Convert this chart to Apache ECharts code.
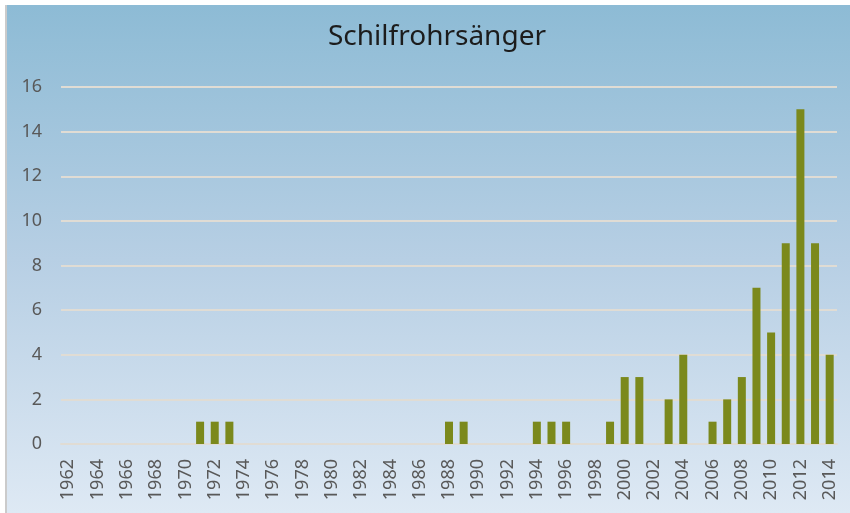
<!DOCTYPE html>
<html>
<head>
<meta charset="utf-8">
<script src="https://cdn.jsdelivr.net/npm/echarts@6/dist/echarts.min.js"></script>
<style>
  body { margin: 0; background: #fff; }
  #bg { position: absolute; left: 5px; top: 5px; width: 843px; height: 508px;
        border-left: 2px solid #cbcbcb;
        background: linear-gradient(to bottom, #8dbbd5 0%, #b7cfe4 50%, #dee9f4 100%); }
  #chart { position: absolute; left: 0; top: 0; width: 850px; height: 513px; }
</style>
</head>
<body>
<div id="bg"></div>
<div id="chart"></div>
<script>
  var years = ['1962','1963','1964','1965','1966','1967','1968','1969','1970','1971',
               '1972','1973','1974','1975','1976','1977','1978','1979','1980','1981',
               '1982','1983','1984','1985','1986','1987','1988','1989','1990','1991',
               '1992','1993','1994','1995','1996','1997','1998','1999','2000','2001',
               '2002','2003','2004','2005','2006','2007','2008','2009','2010','2011',
               '2012','2013','2014'];
  var counts = [0,0,0,0,0,0,0,0,0,1,
                1,1,0,0,0,0,0,0,0,0,
                0,0,0,0,0,0,1,1,0,0,
                0,0,1,1,1,0,0,1,3,3,
                0,2,4,0,1,2,3,7,5,9,
                15,9,4];
  var yTicks = { min: 0, max: 16, step: 2 };

  var chart = echarts.init(document.getElementById('chart'));
  var option = {
    backgroundColor: 'transparent',
    animation: false,
    title: {
      text: 'Schilfrohrsänger',
      left: 432,
      textAlign: 'center',
      top: 18,
      textStyle: { fontFamily: 'Noto Sans', fontSize: 28, fontWeight: 'normal', color: '#1c1c1c' }
    },
    grid: { left: 61, right: 13, top: 87, bottom: 69, containLabel: false },
    xAxis: {
      type: 'category',
      data: years,
      axisLine: { lineStyle: { color: '#e0dcd4', width: 2 } },
      axisTick: { show: false },
      axisLabel: {
        interval: 1,
        rotate: 90,
        margin: 15,
        fontFamily: 'Noto Sans',
        fontSize: 18,
        color: '#595959'
      }
    },
    yAxis: {
      type: 'value',
      min: yTicks.min,
      max: yTicks.max,
      interval: yTicks.step,
      axisLine: { show: false },
      axisTick: { show: false },
      splitLine: { lineStyle: { color: '#e0dcd4', width: 2 } },
      axisLabel: { margin: 19, fontFamily: 'Noto Sans', fontSize: 18, color: '#595959' }
    },
    series: [{
      type: 'bar',
      data: counts,
      barWidth: 8,
      itemStyle: { color: '#7b891c' }
    }]
  };
  chart.setOption(option);
</script>
</body>
</html>
